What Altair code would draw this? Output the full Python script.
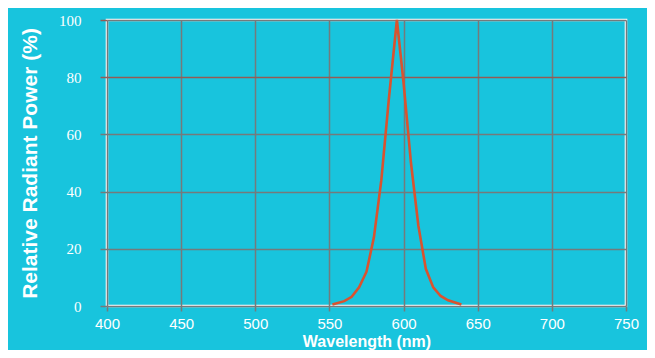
import altair as alt
import pandas as pd

wavelength = [552, 560, 565, 570, 575, 580, 585, 590, 595.5, 600, 605, 610, 615, 620, 625, 630, 639]
power = [0.5, 1.7, 3.2, 6.5, 12, 24, 44, 72, 100, 78, 50, 28, 13, 6.5, 3.5, 2, 0.5]

x_ticks = [400, 450, 500, 550, 600, 650, 700, 750]
y_ticks = [0, 20, 40, 60, 80, 100]

df = pd.DataFrame({"wavelength": wavelength, "power": power})

BG = "#18c4dd"
GRID = "#757a7b"

chart = alt.Chart(df).mark_line(color="#d9532f", strokeWidth=2.6).encode(
    x=alt.X("wavelength:Q",
            scale=alt.Scale(domain=[400, 750], nice=False, zero=False),
            axis=alt.Axis(values=x_ticks, title="Wavelength (nm)", format="d",
                          grid=True, gridColor=GRID, gridWidth=1.5,
                          tickColor=GRID, tickWidth=1.5, tickSize=5,
                          domain=False, labelColor="white", labelFont="Liberation Sans",
                          labelFontSize=15, labelPadding=5, labelFlush=False,
                          titleColor="white", titleFont="Liberation Sans",
                          titleFontSize=16, titleFontWeight="bold", titlePadding=2)),
    y=alt.Y("power:Q",
            scale=alt.Scale(domain=[0, 100], nice=False),
            axis=alt.Axis(values=y_ticks, title="Relative Radiant Power (%)", format="d",
                          grid=True,
                          gridColor=alt.condition("datum.value == 80", alt.value("#955b54"), alt.value(GRID)),
                          gridWidth=1.5,
                          tickColor=alt.condition("datum.value >= 80", alt.value("#955b54"), alt.value(GRID)),
                          tickWidth=1.5, tickSize=7,
                          domain=False, labelColor="white", labelFont="Liberation Serif",
                          labelFontSize=15, labelPadding=19, labelFlush=False,
                          titleColor="white", titleFont="Liberation Sans",
                          titleFontSize=21, titleFontWeight="bold", titlePadding=18)),
).properties(
    width=519, height=286,
    autosize=alt.AutoSizeParams(type="none"),
    padding={"left": 99, "top": 12, "right": 21, "bottom": 44},
    background=BG,
).configure_view(
    stroke="white", strokeWidth=2.6, fill=BG
)

chart.save("out.html", embed_options={"renderer": "svg", "actions": False})
